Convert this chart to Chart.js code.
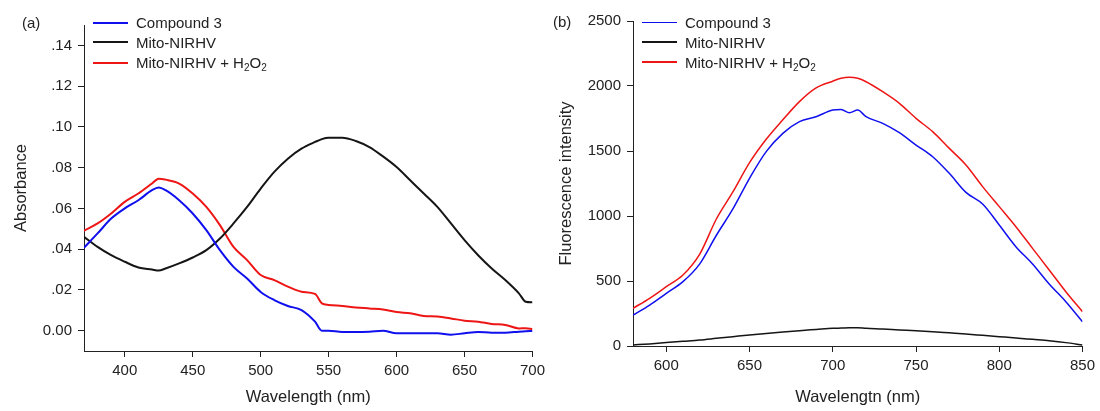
<!DOCTYPE html>
<html>
<head>
<meta charset="utf-8">
<script src="https://cdn.jsdelivr.net/npm/chart.js@4/dist/chart.umd.min.js"></script>
<style>
  body { margin: 0; background: #fff; font-family: "Liberation Sans", Arial, sans-serif; color: #222; }
  #wrap { position: relative; width: 1100px; height: 411px; overflow: hidden; }
  canvas { position: absolute; top: 0; }
  .panel-label { position: absolute; font-size: 15px; line-height: 18px; }
  .legend-item { position: absolute; display: flex; align-items: center; height: 18px; font-size: 15px; white-space: nowrap; }
  .legend-item .swatch { display: inline-block; width: 35px; margin-right: 8px; }
  .legend-item sub { font-size: 10px; vertical-align: -3px; line-height: 0; }
</style>
</head>
<body>
<div id="wrap">
  <canvas id="chartA" width="550" height="411" style="left:0"></canvas>
  <canvas id="chartB" width="550" height="411" style="left:550px"></canvas>
  <div class="panel-label" style="left:22px;top:14px">(a)</div>
  <div class="panel-label" style="left:553px;top:13px">(b)</div>
  <div id="legendA"></div>
  <div id="legendB"></div>
</div>
<script>
// Series names and colours
const seriesNames = ["Compound 3", "Mito-NIRHV", "Mito-NIRHV + H<sub>2</sub>O<sub>2</sub>"];
const seriesColors = ["#1010ee", "#151515", "#ee1515"];

// Panel (a): absorbance
const wavelengthA = [370, 380, 390, 400, 410, 420, 425, 430, 440, 450, 460, 470, 480, 490, 500, 510, 520, 530, 540, 545,
  550, 560, 570, 580, 590, 600, 610, 620, 630, 640, 650, 660, 670, 680, 690, 695, 700];
const compound3A = [0.0407, 0.0477, 0.055, 0.060, 0.064, 0.0689, 0.0702, 0.0689, 0.064, 0.0575, 0.0493, 0.0395, 0.0313,
  0.0256, 0.019, 0.015, 0.0121, 0.0101, 0.0044, 0.0000, 0.0000, -0.0007, -0.0007, -0.0005, 0.0000, -0.0013, -0.0013,
  -0.0013, -0.0013, -0.002, -0.0013, -0.0007, -0.001, -0.001, -0.0005, -0.0003, -0.0002];
const mitoA = [0.046, 0.0411, 0.037, 0.0338, 0.031, 0.030, 0.0295, 0.0305, 0.033, 0.0359, 0.0395, 0.0452, 0.0526, 0.0607,
  0.0697, 0.0779, 0.0844, 0.0893, 0.0926, 0.094, 0.0947, 0.0947, 0.0931, 0.0901, 0.0855, 0.0803, 0.0738, 0.0673, 0.0607,
  0.0526, 0.0444, 0.037, 0.0305, 0.0248, 0.0183, 0.0142, 0.0139];
const mitoH2O2A = [0.049, 0.0526, 0.0575, 0.0632, 0.0673, 0.0722, 0.0746, 0.0741, 0.0722, 0.0673, 0.0607, 0.0518, 0.0411,
  0.0346, 0.0273, 0.0248, 0.0216, 0.0191, 0.018, 0.0134, 0.0126, 0.0121, 0.0114, 0.0109, 0.0104, 0.0091, 0.0085, 0.0072,
  0.0069, 0.006, 0.0049, 0.0044, 0.0033, 0.0028, 0.0011, 0.0012, 0.0007];
const xTicksA = [400, 450, 500, 550, 600, 650, 700];
const yTicksA = [0, 0.02, 0.04, 0.06, 0.08, 0.10, 0.12, 0.14];
const yTickLabelsA = ["0.00", ".02", ".04", ".06", ".08", ".10", ".12", ".14"];

// Panel (b): fluorescence
const wavelengthB = [580, 590, 600, 610, 620, 630, 640, 650, 660, 670, 680, 690, 700, 705, 710, 715, 720, 730, 740, 750,
  760, 770, 780, 790, 800, 810, 820, 830, 840, 850];
const compound3B = [238, 315, 405, 495, 630, 850, 1055, 1290, 1495, 1636, 1726, 1764, 1815, 1820, 1795, 1815, 1764, 1713,
  1641, 1546, 1456, 1328, 1182, 1092, 931, 764, 631, 477, 341, 187];
const mitoB = [8, 16, 26, 36, 46, 59, 72, 85, 97, 108, 118, 127, 136, 138, 140, 141, 136, 131, 124, 118, 110, 101, 92, 82,
  72, 62, 51, 40, 26, 8];
const mitoH2O2B = [290, 367, 456, 546, 705, 975, 1185, 1410, 1590, 1740, 1880, 1985, 2037, 2059, 2067, 2059, 2033, 1956,
  1867, 1751, 1649, 1520, 1392, 1226, 1072, 918, 751, 585, 418, 264];
const xTicksB = [600, 650, 700, 750, 800, 850];
const yTicksB = [0, 500, 1000, 1500, 2000, 2500];

Chart.defaults.font.family = '"Liberation Sans", Arial, sans-serif';
Chart.defaults.color = "#222";

function toPoints(xs, ys) {
  return xs.map((x, i) => ({ x: x, y: ys[i] }));
}

function makeDatasets(xs, seriesList, width) {
  return seriesList.map((ys, i) => ({
    label: seriesNames[i].replace(/<[^>]+>/g, ""),
    data: toPoints(xs, ys),
    borderColor: seriesColors[i],
    borderWidth: width,
    pointRadius: 0,
    fill: false,
    cubicInterpolationMode: "monotone",
  }));
}

function axisStyle(ticks, labels, fitSize, horizontal) {
  return {
    type: "linear",
    grid: { drawOnChartArea: false, drawTicks: true, tickLength: 6, color: "#222", lineWidth: 1 },
    border: { display: true, color: "#222", width: 1 },
    ticks: {
      font: { size: 15 },
      color: "#222",
      padding: horizontal ? 5 : 6,
      maxRotation: 0,
      autoSkip: false,
      callback: (v) => {
        const i = ticks.indexOf(v);
        return labels ? labels[i] : String(v);
      },
    },
    afterBuildTicks: (scale) => {
      scale.ticks = ticks.map((v) => ({ value: v }));
    },
    afterFit: (scale) => {
      if (horizontal) scale.height = fitSize;
      else scale.width = fitSize;
    },
  };
}

function makeChart(id, xs, seriesList, opts) {
  const xAxis = axisStyle(opts.xTicks, null, opts.xFit, true);
  xAxis.min = opts.xMin;
  xAxis.max = opts.xMax;
  xAxis.title = { display: true, text: opts.xTitle, font: { size: 16.5 }, color: "#222", padding: { top: 0, bottom: 4 } };
  const yAxis = axisStyle(opts.yTicks, opts.yLabels, opts.yFit, false);
  yAxis.min = opts.yMin;
  yAxis.max = opts.yMax;
  yAxis.title = { display: true, text: opts.yTitle, font: { size: 16.5 }, color: "#222", padding: { top: opts.yTitlePad, bottom: 0 } };

  return new Chart(document.getElementById(id), {
    type: "line",
    data: { datasets: makeDatasets(xs, seriesList, opts.lineWidth) },
    options: {
      responsive: false,
      animation: false,
      layout: { padding: opts.padding },
      plugins: { legend: { display: false }, tooltip: { enabled: false } },
      scales: { x: xAxis, y: yAxis },
    },
  });
}

makeChart("chartA", wavelengthA, [compound3A, mitoA, mitoH2O2A], {
  xMin: 370, xMax: 700, xTicks: xTicksA, xFit: 60, xTitle: "Wavelength (nm)",
  yMin: -0.01, yMax: 0.15, yTicks: yTicksA, yLabels: yTickLabelsA, yFit: 84, yTitle: "Absorbance", yTitlePad: 12,
  padding: { top: 25, right: 13, left: 0, bottom: 0 },
  lineWidth: 2,
});

makeChart("chartB", wavelengthB, [compound3B, mitoB, mitoH2O2B], {
  xMin: 580, xMax: 850, xTicks: xTicksB, xFit: 65, xTitle: "Wavelengtn (nm)",
  yMin: 0, yMax: 2500, yTicks: yTicksB, yLabels: null, yFit: 83, yTitle: "Fluorescence intensity", yTitlePad: 7,
  padding: { top: 21, right: 14, left: 0, bottom: 0 },
  lineWidth: 1.5,
});

// HTML legends (so the subscripts stay as real text)
function buildLegend(containerId, left, rowsY, width) {
  const box = document.getElementById(containerId);
  seriesNames.forEach((name, i) => {
    const item = document.createElement("div");
    item.className = "legend-item";
    item.style.left = left + "px";
    item.style.top = (rowsY[i] - 9) + "px";
    item.innerHTML = `<span class="swatch" style="height:${width}px;background:${seriesColors[i]}"></span><span>${name}</span>`;
    box.appendChild(item);
  });
}

buildLegend("legendA", 93, [22.7, 42, 62.5], 2);
buildLegend("legendB", 642, [22.7, 42, 62], 1.5);
</script>
</body>
</html>
